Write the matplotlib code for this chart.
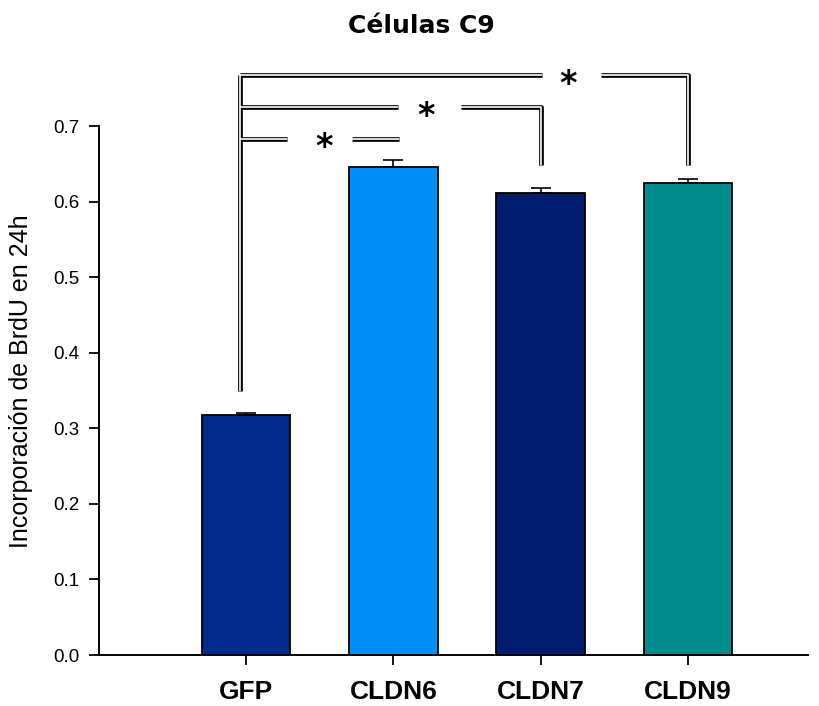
# Libraries
import matplotlib.pyplot as plt

# Data
groups = ['GFP', 'CLDN6', 'CLDN7', 'CLDN9']
means = [0.317, 0.646, 0.612, 0.625]
errors = [0.0035, 0.0095, 0.006, 0.005]
colors = ['#022a8c', '#008ff5', '#031d6e', '#008c8c']
yticks = [0.0, 0.1, 0.2, 0.3, 0.4, 0.5, 0.6, 0.7]

# Significance brackets: (from, to, height, star x, drop level at the right end)
brackets = [
    (0, 1, 0.683, 0.53, None),
    (0, 2, 0.725, 1.22, 0.649),
    (0, 3, 0.767, 2.19, 0.649),
]
gaps = [(0.28, 0.72), (1.03, 1.46), (2.01, 2.41)]
left_drop = 0.35

fig = plt.figure(figsize=(8.19, 7.06), dpi=100)
ax = fig.add_axes([0.121, 0.0722, 0.866, 0.7493])

x = range(len(groups))
ax.bar(x, means, width=0.6, color=colors, edgecolor='black', linewidth=1.3, zorder=2)
ax.errorbar(x, means, yerr=[[0] * 4, errors], fmt='none', ecolor='black',
            elinewidth=1.2, capsize=7, capthick=1.2, zorder=3)

ax.set_xlim(-1.0, 3.82)
ax.set_ylim(0, 0.7)
ax.set_yticks(yticks)
ax.set_yticklabels([f'{v:.1f}' for v in yticks], fontsize=13.5, family='Liberation Sans')
ax.set_xticks(list(x))
ax.set_xticklabels(groups, fontsize=19, fontweight='bold', family='Liberation Sans')
ax.tick_params(axis='y', direction='out', length=7, width=1.3, pad=7)
ax.tick_params(axis='x', direction='out', length=7, width=1.3, pad=11)
for s in ['top', 'right']:
    ax.spines[s].set_visible(False)
for s in ['left', 'bottom']:
    ax.spines[s].set_linewidth(1.4)

ax.set_ylabel('Incorporación de BrdU en 24h', fontsize=18, family='Liberation Sans')
ax.yaxis.set_label_coords(-0.093, 0.518)
fig.text(0.515, 0.963, 'Células C9', ha='center', va='center',
         fontsize=18, fontweight='bold', family='DejaVu Sans')

# Double-line brackets: thick black with a thin white core
def dline(xs, ys):
    ax.plot(xs, ys, color='black', lw=3.4, clip_on=False, zorder=4, solid_capstyle='butt')
    ax.plot(xs, ys, color='white', lw=1.2, clip_on=False, zorder=5, solid_capstyle='butt')

x0 = -0.045
dline([x0, x0], [left_drop, brackets[-1][2]])
for (a, b, h, sx, drop), (g0, g1) in zip(brackets, gaps):
    dline([x0, g0], [h, h])
    if drop is None:
        dline([g1, b + 0.035], [h, h])
    else:
        dline([g1, b, b], [h, h, drop])
    ax.text(sx, h - 0.012, '*', ha='center', va='center', fontsize=24,
            fontweight='bold', family='DejaVu Sans', clip_on=False)

plt.savefig('out.png')
